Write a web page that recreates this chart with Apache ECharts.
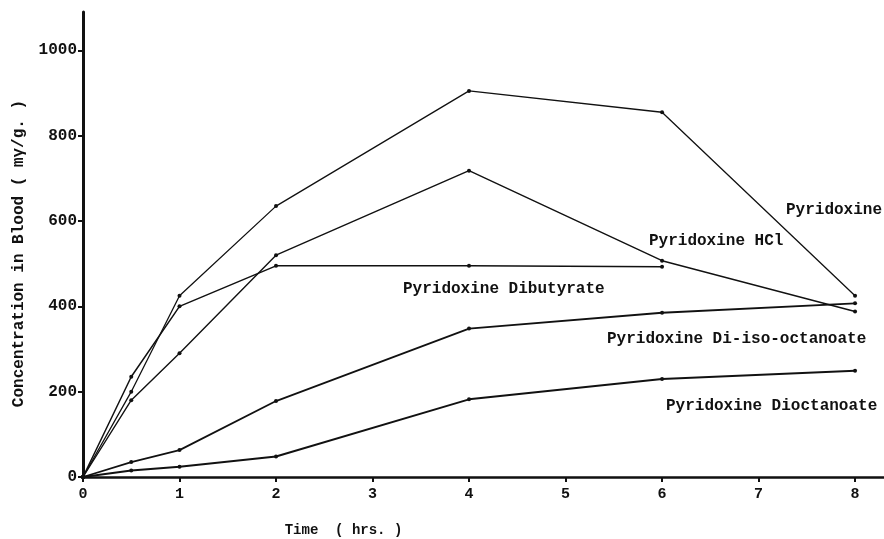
<!DOCTYPE html>
<html>
<head>
<meta charset="utf-8">
<script src="https://cdn.jsdelivr.net/npm/echarts@6/dist/echarts.min.js"></script>
<style>
html,body{margin:0;padding:0;background:#fff;}
#c{width:884px;height:539px;}
</style>
</head>
<body>
<div id="c"></div>
<script>
// Time points (hrs.)
const times = [0, 0.5, 1, 2, 4, 6, 8];
// Concentration in blood (mγ/g.)
const pyridoxine      = [0, 200, 425, 635, 905, 855, 425];
const pyridoxineHCl   = [0, 180, 290, 520, 718, 507, 388];
const dibutyrate      = [0, 235, 400, 495, 495, 493, null];
const diIsoOctanoate  = [0, 35, 63, 178, 348, 385, 407];
const dioctanoate     = [0, 15, 24, 48, 182, 230, 249];
const seriesNames = ['Pyridoxine', 'Pyridoxine HCl', 'Pyridoxine Dibutyrate',
  'Pyridoxine Di-iso-octanoate', 'Pyridoxine Dioctanoate'];
const xTicks = [0, 1, 2, 3, 4, 5, 6, 7, 8];
const yTicks = [0, 200, 400, 600, 800, 1000];

const FONT = '"Liberation Mono", "DejaVu Sans Mono", monospace';
const allValues = [pyridoxine, pyridoxineHCl, dibutyrate, diIsoOctanoate, dioctanoate];
const widths = [1.3, 1.4, 1.5, 1.8, 2];

function pairs(vals) {
  const out = [];
  vals.forEach((v, i) => { if (v !== null) out.push([times[i], v]); });
  return out;
}

const chart = echarts.init(document.getElementById('c'));
chart.setOption({
  animation: false,
  backgroundColor: '#fff',
  grid: { left: 83, right: 0, top: 12, bottom: 62, containLabel: false, outerBoundsMode: 'none' },
  xAxis: {
    type: 'value', min: 0, max: 8.3, interval: 1,
    name: 'Time  ( hrs. )', nameLocation: 'middle', nameGap: 46,
    nameTextStyle: { fontFamily: FONT, fontSize: 14, fontWeight: 'bold', color: '#111', padding: [0, 280, 0, 0] },
    axisLine: { show: true, lineStyle: { color: '#111', width: 2.5 } },
    axisTick: { show: true, inside: false, length: 5, lineStyle: { color: '#111', width: 2 } },
    axisLabel: {
      fontFamily: FONT, fontSize: 15, fontWeight: 'bold', color: '#111', margin: 10,
      showMaxLabel: false,
      formatter: v => (xTicks.indexOf(v) >= 0 ? String(v) : '')
    },
    splitLine: { show: false }
  },
  yAxis: {
    type: 'value', min: 0, max: 1090, interval: 200,
    name: 'Concentration in Blood ( mγ/g. )', nameLocation: 'middle', nameGap: 56,
    nameTextStyle: { fontFamily: FONT, fontSize: 16, fontWeight: 'bold', color: '#111', padding: [0, 0, 0, -18] },
    axisLine: { show: true, lineStyle: { color: '#111', width: 3 } },
    axisTick: { show: true, inside: false, length: 5, lineStyle: { color: '#111', width: 2 } },
    axisLabel: {
      fontFamily: FONT, fontSize: 16, fontWeight: 'bold', color: '#111', margin: 6,
      showMaxLabel: false,
      formatter: v => (yTicks.indexOf(v) >= 0 ? String(v) : '')
    },
    splitLine: { show: false }
  },
  series: allValues.map((vals, i) => ({
    name: seriesNames[i],
    type: 'line',
    data: pairs(vals),
    symbol: 'circle', symbolSize: 4,
    showSymbol: true,
    itemStyle: { color: '#111' },
    lineStyle: { color: '#111', width: widths[i] },
    z: 3
  })),
  graphic: [
    { type: 'text', left: 786, top: 202, style: { text: 'Pyridoxine', font: 'bold 16px ' + FONT, fill: '#111' } },
    { type: 'text', left: 649, top: 233, style: { text: 'Pyridoxine HCl', font: 'bold 16px ' + FONT, fill: '#111' } },
    { type: 'text', left: 403, top: 281, style: { text: 'Pyridoxine Dibutyrate', font: 'bold 16px ' + FONT, fill: '#111' } },
    { type: 'text', left: 607, top: 331, style: { text: 'Pyridoxine Di-iso-octanoate', font: 'bold 16px ' + FONT, fill: '#111' } },
    { type: 'text', left: 666, top: 398, style: { text: 'Pyridoxine Dioctanoate', font: 'bold 16px ' + FONT, fill: '#111' } }
  ]
});
</script>
</body>
</html>
